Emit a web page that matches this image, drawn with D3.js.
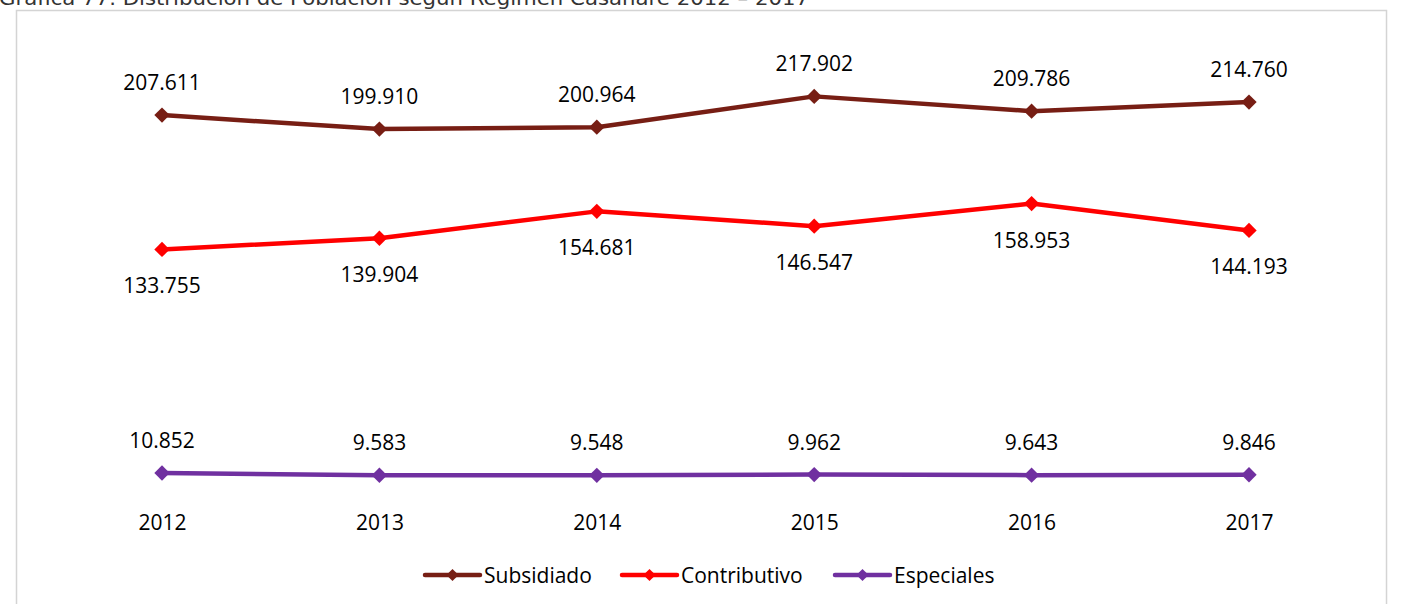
<!DOCTYPE html>
<html><head><meta charset="utf-8">
<script src="https://cdn.jsdelivr.net/npm/d3@7"></script>
<style>html,body{margin:0;padding:0;background:#fff;overflow:hidden}</style>
</head><body>
<script>
const years = ["2012","2013","2014","2015","2016","2017"];
const subsidiado = [207611,199910,200964,217902,209786,214760];
const contributivo = [133755,139904,154681,146547,158953,144193];
const especiales = [10852,9583,9548,9962,9643,9846];
const seriesNames = ["Subsidiado","Contributivo","Especiales"];
const seriesColors = ["#771E14","#FF0000","#7030A0"];
const labelPos = ["above","below","above"];
const title = "Gráfica 77. Distribución de Población según Régimen Casanare 2012 – 2017";

const W=1402,H=604;
const svg=d3.select("body").append("svg").attr("width",W).attr("height",H);
const font="'Open Sans', 'Noto Sans', sans-serif";

svg.append("rect").attr("x",16.5).attr("y",10.5).attr("width",1370).attr("height",620)
  .attr("fill","#fff").attr("stroke","#d4d4d4").attr("stroke-width",1.5);

svg.append("text").attr("x",-1).attr("y",5).attr("font-family","'DejaVu Sans', sans-serif")
  .attr("font-size",19).attr("fill","#333").attr("textLength",810).attr("lengthAdjust","spacingAndGlyphs")
  .text(title);

const x=d3.scalePoint().domain(years).range([162,1249]);
const y=d3.scaleLinear().domain([0,250000]).range([492.7,38]);

const fmt=v=>d3.format(",")(v).replace(/,/g,".");
const data=[subsidiado,contributivo,especiales];
const diamond=d3.symbol().type(d3.symbolDiamond2).size(150);
const diamondLeg=d3.symbol().type(d3.symbolDiamond2).size(95);

data.forEach((vals,i)=>{
  const g=svg.append("g");
  const line=d3.line().x((d,j)=>x(years[j])).y(d=>y(d));
  g.append("path").datum(vals).attr("d",line).attr("fill","none")
    .attr("stroke",seriesColors[i]).attr("stroke-width",4.5).attr("stroke-linejoin","round");
  g.selectAll("path.m").data(vals).join("path").attr("class","m")
    .attr("d",diamond).attr("transform",(d,j)=>`translate(${x(years[j])},${y(d)})`)
    .attr("fill",seriesColors[i]);
  g.selectAll("text").data(vals).join("text")
    .attr("x",(d,j)=>x(years[j]))
    .attr("y",d=>labelPos[i]==="above"? y(d)-25 : y(d)+44)
    .attr("text-anchor","middle").attr("font-family",font).attr("font-size",21).attr("fill","#000")
    .text(d=>fmt(d));
});

// x axis labels
svg.append("g").attr("transform","translate(0,530)")
  .call(d3.axisBottom(x).tickSize(0).tickPadding(0))
  .call(g=>g.select(".domain").remove())
  .call(g=>g.selectAll("text").attr("font-family",font).attr("font-size",21).attr("fill","#000").attr("dy",0).attr("y",0));

// legend
const legX=[425,622,835];
seriesNames.forEach((n,i)=>{
  const g=svg.append("g").attr("transform",`translate(${legX[i]},575)`);
  g.append("line").attr("x1",0).attr("x2",55).attr("stroke",seriesColors[i]).attr("stroke-width",4.5).attr("stroke-linecap","round");
  g.append("path").attr("d",diamondLeg).attr("transform","translate(27.5,0)").attr("fill",seriesColors[i]);
  g.append("text").attr("x",59).attr("y",8).attr("font-family",font).attr("font-size",21).attr("fill","#000").text(n);
});
</script>
</body></html>
